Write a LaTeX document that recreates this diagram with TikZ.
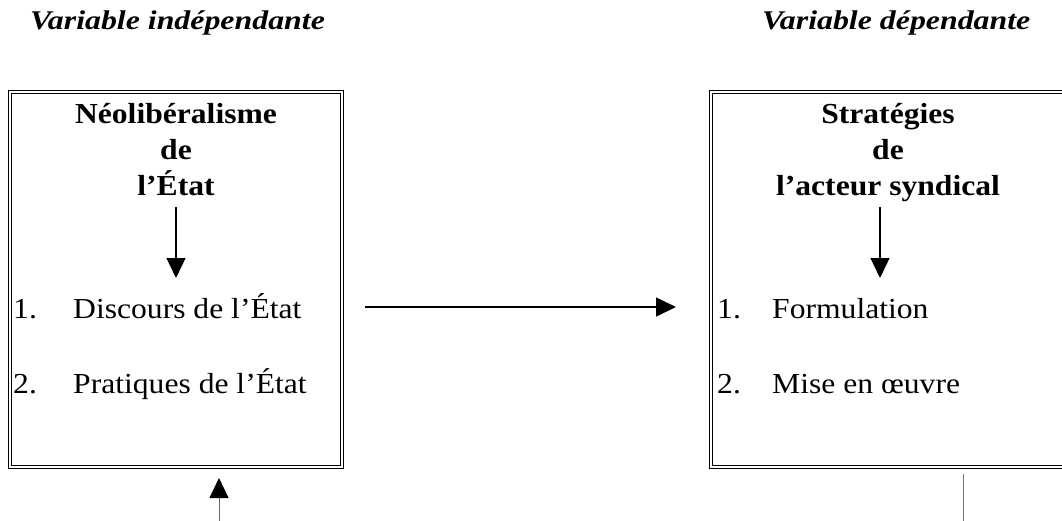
\documentclass[tikz,border=0pt]{standalone}
\usepackage{fontspec}
\setmainfont{Liberation Serif}[FakeStretch=1.09]
\newfontfamily\headfont{Liberation Serif}[FakeStretch=1.18]
\usetikzlibrary{arrows.meta}
\begin{document}
\begin{tikzpicture}[x=1pt,y=-1pt,
  frame/.style={draw=black, double=white, double distance=1.8pt, line width=0.7pt},
  txt/.style={inner sep=0pt, font=\fontsize{29}{34}\selectfont},
  title/.style={txt, anchor=base, font=\fontsize{29}{34}\selectfont\bfseries},
  item/.style={txt, anchor=base west},
  head/.style={txt, anchor=base west, font=\headfont\fontsize{27}{32}\selectfont\bfseries\itshape},
  flow/.style={line width=1.3pt, -{Triangle[width=19pt,length=20pt]}},
  thin/.style={line width=0.9pt, draw=black!55}]
\clip (0,0) rectangle (1062,520);
\fill[white] (0,0) rectangle (1062,520);

% column headings
\node[head] (hleft) at (30,29) {Variable indépendante};
\node[head] (hright) at (762,29) {Variable dépendante};

% the two framed boxes
\draw[frame] (10,92) rectangle (342,467);
\draw[frame] (711,92) rectangle (1075,467);

% left box contents
\node[title] (l1) at (176,123) {Néolibéralisme};
\node[title] (l2) at (176,159) {de};
\node[title] (l3) at (176,195) {l’État};
\node[item] (n1) at (13,318) {1.};
\node[item] (a1) at (73,318) {Discours de l’État};
\node[item] (n2) at (13,393) {2.};
\node[item] (a2) at (73,393) {Pratiques de l’État};

% right box contents
\node[title] (r1) at (888,123) {Stratégies};
\node[title] (r2) at (888,159) {de};
\node[title] (r3) at (888,195) {l’acteur syndical};
\node[item] (m1) at (717,318) {1.};
\node[item] (b1) at (772,318) {Formulation};
\node[item] (m2) at (717,393) {2.};
\node[item] (b2) at (772,393) {Mise en œuvre};

% connector end points
\coordinate (ls) at (176,207);
\coordinate (le) at (176,278);
\coordinate (rs) at (880,207);
\coordinate (re) at (880,278);
\coordinate (hs) at (365,307);
\coordinate (he) at (676,307);
\coordinate (us) at (219,521);
\coordinate (ue) at (219,478);
\coordinate (vs) at (963,474);
\coordinate (ve) at (963,521);

\draw[flow] (ls) -- (le);
\draw[flow] (rs) -- (re);
\draw[flow, line width=1.5pt] (hs) -- (he);
\draw[line width=0.9pt, draw=black!60, -{Triangle[width=19pt,length=20pt,color=black]}] (us) -- (ue);
\draw[thin] (vs) -- (ve);
\end{tikzpicture}
\end{document}
